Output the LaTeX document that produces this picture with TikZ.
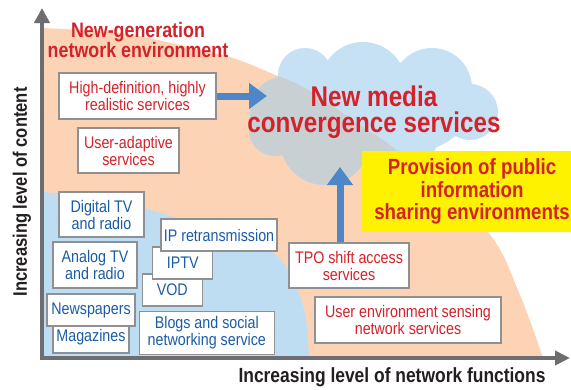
\documentclass[tikz,border=0pt]{standalone}
\usepackage{fontspec}
\setmainfont{Liberation Sans}[FakeStretch=0.85]
\usetikzlibrary{arrows.meta}

\definecolor{peach}{HTML}{FCD3B4}
\definecolor{lightblue}{HTML}{BEDDF3}
\definecolor{cloudblue}{HTML}{C7E1F4}
\definecolor{cloudgray}{HTML}{C8D0D4}
\definecolor{txtred}{HTML}{D3222A}
\definecolor{txtblue}{HTML}{1B5CA6}
\definecolor{arrowblue}{HTML}{4E87C7}
\definecolor{axisgray}{HTML}{6D6E71}
\definecolor{boxgray}{HTML}{8E9093}
\definecolor{signyellow}{HTML}{FFF200}
\definecolor{lblblack}{HTML}{231F20}

\newcommand{\peachpath}{(42,358) -- plot[smooth] coordinates {(42,28) (120,33) (180,45)
  (233,58) (273,74) (307,89) (360,125) (400,153) (488,232) (520,295) (543,358)} -- cycle}
\newcommand{\cloudpath}{(370,110) ellipse [x radius=100, y radius=50]
  (305,75) circle [radius=27] (363,85) circle [radius=43] (432,88) circle [radius=40]
  (470,112) circle [radius=28] (286,112) circle [radius=36] (275,130) circle [radius=26]
  (325,140) circle [radius=45] (400,130) circle [radius=40]}

\begin{document}
\begin{tikzpicture}[x=1pt, y=-1pt,
    every text node part/.style={align=center},
    box/.style={draw=boxgray, line width=1.3pt, fill=white, inner sep=0pt,
      font=\fontsize{16.8}{17}\selectfont},
    redbox/.style={box, text=txtred},
    bluebox/.style={box, text=txtblue},
    bigarrow/.style={arrowblue, line width=7pt, -{Triangle[length=18pt, width=25pt]}},
    axis/.style={axisgray, line width=4pt,
      {Triangle[length=15pt, width=15pt]}-{Triangle[length=15pt, width=14pt]}},
    axislabel/.style={text=lblblack, inner sep=0pt, font=\fontsize{20.5}{21}\bfseries},
    redtitle/.style={text=txtred, inner sep=0pt, font=\fontsize{21}{20}\bfseries}]
  \path[use as bounding box, clip] (0,0) rectangle (571,389);
  \fill[white] (0,0) rectangle (571,389);

  \fill[peach] \peachpath;
  \fill[lightblue] (42,358) -- plot[smooth] coordinates {(42,192) (90,197) (143,208)
    (200,225) (245,240) (277,256) (296,285) (306,320) (309,358)} -- cycle;
  \fill[cloudblue] \cloudpath;
  \begin{scope}
    \clip \peachpath;
    \fill[cloudgray] \cloudpath;
  \end{scope}

  \coordinate (orig)  at (42,358);
  \coordinate (yTip)  at (42,8);
  \coordinate (xTip)  at (570,358);
  \coordinate (cloudL) at (267,96);
  \coordinate (cloudB) at (340,167);

  \draw[axis] (yTip) -- (orig) -- (xTip);

  \node[axislabel, rotate=90, font=\fontsize{19.5}{19}\bfseries] (contentLbl) at (22,192) {Increasing level of content};
  \node[axislabel] (functionLbl) at (392,377) {Increasing level of network functions};

  \node[redtitle] (genTitle) at (138,40) {New-generation\\network environment};

  \node[redbox, minimum width=157, minimum height=46] (hiDef)   at (137.5,96)  {High-definition, highly\\realistic services};
  \node[redbox, minimum width=101, minimum height=45] (userAd)  at (128.5,150.5) {User-adaptive\\services};
  \node[redbox, minimum width=120, minimum height=45] (tpo)     at (349,265.5) {TPO shift access\\services};
  \node[redbox, minimum width=186, minimum height=46] (userEnv) at (408,320)   {User environment sensing\\network services};

  \node[bluebox, minimum width=85, minimum height=45]  (digTV)  at (101.5,214.5) {Digital TV\\and radio};
  \node[bluebox, minimum width=84, minimum height=46]  (anaTV)  at (95,265)     {Analog TV\\and radio};
  \node[bluebox, minimum width=76, minimum height=32]  (mags)   at (91,337)     {Magazines};
  \node[bluebox, minimum width=88, minimum height=32]  (news)   at (91,310)     {Newspapers};
  \node[bluebox, minimum width=60, minimum height=32]  (vod)    at (172.3,290)  {VOD};
  \node[bluebox, minimum width=60, minimum height=32]  (iptv)   at (182.7,263)  {IPTV};
  \node[bluebox, minimum width=116, minimum height=32] (ipRe)   at (219,235)    {IP retransmission};
  \node[bluebox, minimum width=135, minimum height=43] (blogs)  at (206.8,332.7) {Blogs and social\\networking service};

  \node[fill=signyellow, inner sep=0pt, minimum width=220, minimum height=81,
        text=txtred, font=\fontsize{22}{22.5}\bfseries] (publicBox) at (472,191.5)
        {Provision of public\\information\\sharing environments};

  \node[text=txtred, inner sep=0pt, font=\fontsize{28.5}{26}\bfseries] (mediaTxt) at (374,112)
        {New media\\convergence services};

  \draw[bigarrow] (hiDef) -- (cloudL);
  \draw[bigarrow] (tpo.north -| cloudB) -- (cloudB);
\end{tikzpicture}
\end{document}
